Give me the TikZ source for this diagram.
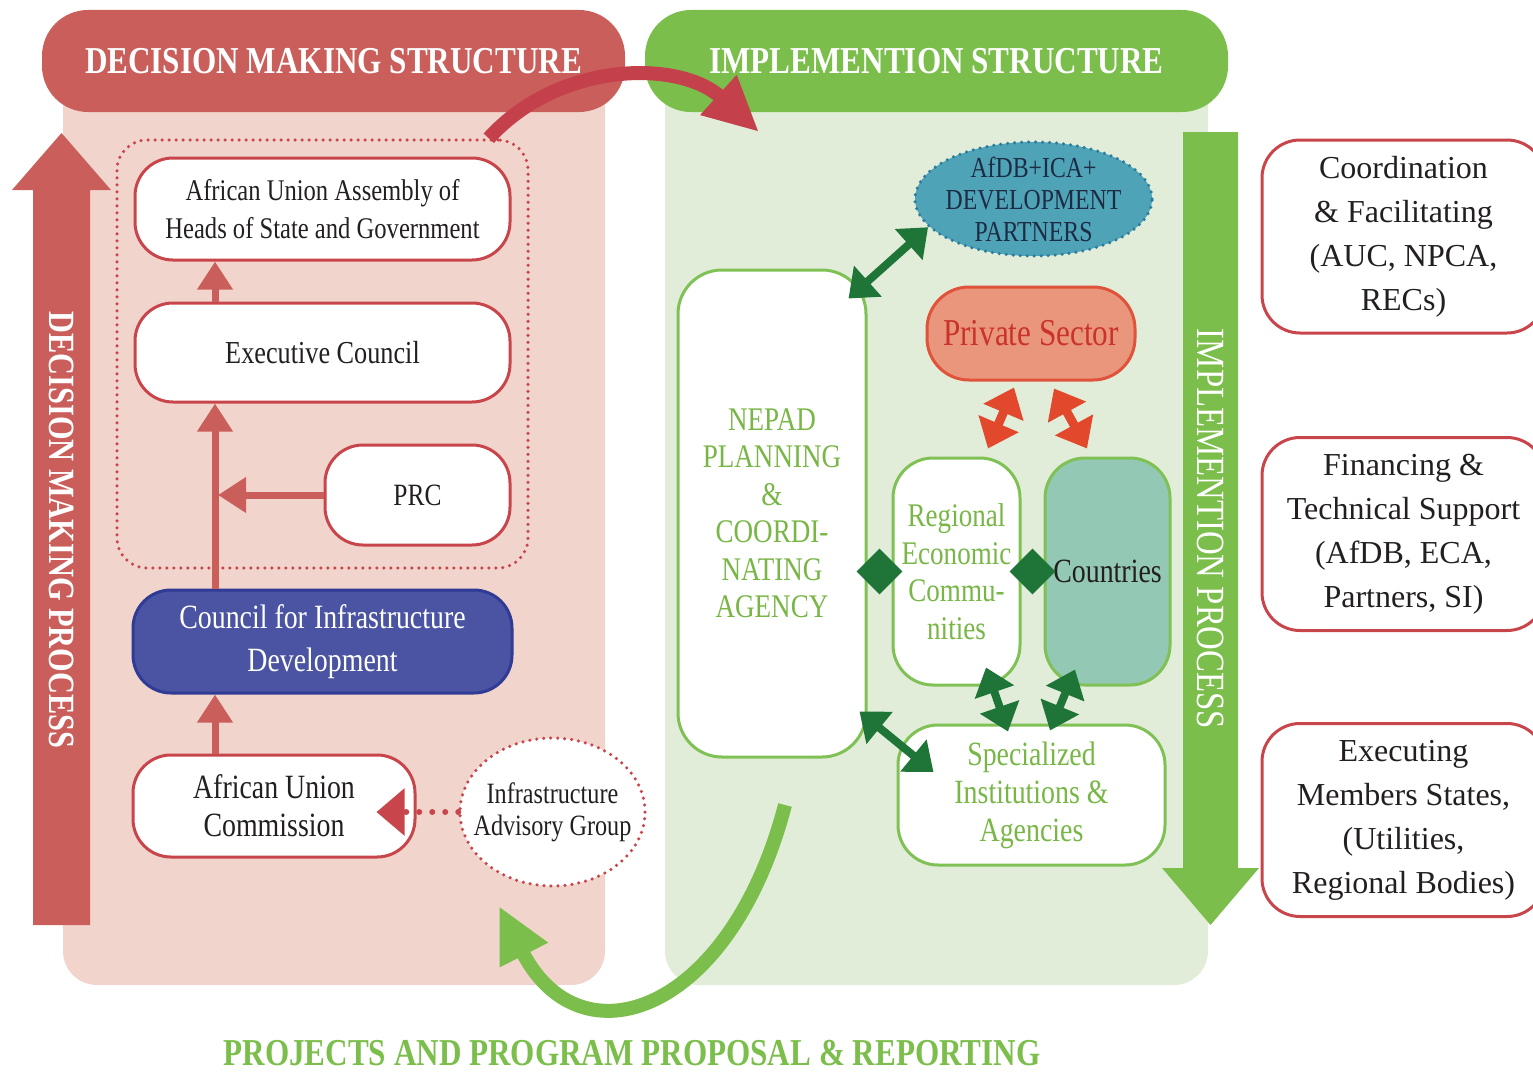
\documentclass[tikz,border=0pt]{standalone}
\usepackage{fontspec}
\setmainfont{Liberation Serif}
\newfontfamily\condfont[FakeStretch=0.82]{Liberation Serif}
\usetikzlibrary{arrows.meta,shapes.geometric,calc}

\definecolor{dmred}{HTML}{CA5E5A}
\definecolor{dmcurve}{HTML}{C4404A}
\definecolor{dmpink}{HTML}{F1D4CC}
\definecolor{dmline}{HTML}{C8464B}
\definecolor{imgreen}{HTML}{7BBE4B}
\definecolor{impale}{HTML}{E2EDD9}
\definecolor{imline}{HTML}{80C155}
\definecolor{imtext}{HTML}{78B646}
\definecolor{imdark}{HTML}{1E7537}
\definecolor{cidblue}{HTML}{4A54A3}
\definecolor{cidline}{HTML}{2F3B94}
\definecolor{afdbfill}{HTML}{4EA3B6}
\definecolor{afdbline}{HTML}{2A7CA0}
\definecolor{afdbtext}{HTML}{1E2B45}
\definecolor{psfill}{HTML}{EA967C}
\definecolor{psline}{HTML}{E0533B}
\definecolor{pstext}{HTML}{C9332B}
\definecolor{psarrow}{HTML}{E2482C}
\definecolor{ctfill}{HTML}{93C8B4}
\definecolor{ink}{HTML}{231F20}

\tikzset{headbar/.style={
  text=white,
  minimum width=583,
  minimum height=102,
  rounded corners=46,
  font=\condfont\bfseries\fontsize{38}{40}\selectfont}}
\tikzset{proctext/.style={
  text=white,
  rotate=-90,
  font=\condfont\fontsize{40}{44}\selectfont}}
\tikzset{dnode/.style={
  draw=dmline,
  fill=white,
  line width=3,
  rounded corners=38,
  inner sep=2,
  align=center,
  text=ink,
  font=\condfont\fontsize{30}{38}\selectfont}}
\tikzset{gnode/.style={
  draw=imline,
  fill=white,
  line width=3,
  rounded corners=40,
  inner sep=2,
  align=center,
  text=imtext,
  font=\condfont\fontsize{33}{37.5}\selectfont}}
\tikzset{sidenode/.style={
  draw=dmline,
  fill=white,
  line width=3,
  rounded corners=38,
  minimum width=283,
  minimum height=193,
  align=center,
  text=ink,
  font=\fontsize{32}{44}\selectfont}}
\tikzset{dotframe/.style={
  line width=3.5,
  dash pattern=on 0pt off 7pt,
  line cap=round}}
\tikzset{riser/.style={
  draw=dmred,
  line width=7,
  -{Triangle[width=34pt,length=28pt]}}}
\tikzset{dotlink/.style={
  draw=dmline,
  line width=6,
  dash pattern=on 0pt off 13pt,
  line cap=round,
  shorten >=-40pt,
  -{Triangle[width=46pt,length=28pt]}}}
\tikzset{gdlink/.style={
  draw=imdark,
  line width=8,
  {Triangle[width=40pt,length=26pt]}-{Triangle[width=40pt,length=26pt]}}}
\tikzset{pslink/.style={
  draw=psarrow,
  line width=9,
  {Triangle[width=42pt,length=27pt]}-{Triangle[width=42pt,length=27pt]}}}
\tikzset{joint/.style={
  diamond,
  fill=imdark,
  inner sep=0,
  minimum size=46}}
\tikzset{bigbend/.style={
  line width=14,
  -{Triangle[width=50pt,length=55pt]}}}

\begin{document}
\begin{tikzpicture}[x=1pt,y=-1pt]
  \useasboundingbox (0,0) rectangle (1533,1073);
  \clip (0,0) rectangle (1533,1073);

  %%%% Panels and headers %%%%
  \fill[dmpink, rounded corners=34] (63,60) rectangle (605,985);
  \fill[impale, rounded corners=34] (665,60) rectangle (1208,985);
  \node[headbar, fill=dmred] (dmhead) at (333.5,61) {DECISION MAKING STRUCTURE};
  \node[headbar, fill=imgreen] (imhead) at (936.5,61) {IMPLEMENTION STRUCTURE};

  %% Process arrows
  \fill[dmred] (33,925) -- (33,190) -- (12,190) -- (61.5,133) -- (111,190)
    -- (90,190) -- (90,925) -- cycle;
  \node[proctext, font=\condfont\bfseries\fontsize{37}{40}\selectfont] (dmproc)
    at (61.5,530) {DECISION MAKING PROCESS};
  \fill[imgreen] (1183,132) -- (1238,132) -- (1238,868) -- (1259,868)
    -- (1210.5,925) -- (1162,868) -- (1183,868) -- cycle;
  \node[proctext] (improc) at (1210.5,529) {IMPLEMENTION PROCESS};

  %%%% Decision making structure %%%%
  \node[dotframe, draw=dmline, rounded corners=30, minimum width=411,
    minimum height=428] (dmbox) at (322.5,354) {};
  \node[dnode, minimum width=375, minimum height=102] (assembly) at (322.5,209)
    {African Union Assembly of\\Heads of State and Government};
  \node[dnode, minimum width=375, minimum height=99,
    font=\condfont\fontsize{32}{38}\selectfont] (exec) at (322.5,352.5) {Executive Council};
  \node[dnode, minimum width=185, minimum height=100,
    font=\condfont\fontsize{31}{38}\selectfont] (prc) at (417.5,495) {PRC};
  \node[dnode, fill=cidblue, draw=cidline, text=white, minimum width=379,
    minimum height=103, font=\condfont\fontsize{34}{43}\selectfont] (cid)
    at (322.5,641.5) {Council for Infrastructure\\Development};
  \node[dnode, minimum width=282, minimum height=102,
    font=\condfont\fontsize{34}{38}\selectfont] (auc) at (274,806)
    {African Union\\Commission};
  \node[dotframe, draw=dmline, fill=white, ellipse, minimum width=185,
    minimum height=148] (iag) at (552.5,812) {};
  \node[align=center, text=ink, font=\condfont\fontsize{29.5}{32}\selectfont]
    (iagtext) at (iag) {Infrastructure\\Advisory Group};

  %% Arrows up the chain
  \coordinate (spine) at (215,0);
  \draw[riser] (auc.north -| spine) -- (cid.south -| spine);
  \draw[riser] (cid.north -| spine) -- (exec.south -| spine);
  \draw[riser] (exec.north -| spine) -- (assembly.south -| spine);
  \draw[riser] (prc.west) -- ([xshift=3]prc.west -| spine);
  \draw[dotlink] (iag.west) -- (auc.east |- iag.west);

  %%%% Implementation structure %%%%
  \node[gnode, minimum width=188, minimum height=487, rounded corners=44]
    (nepad) at (772,513.5)
    {NEPAD\\PLANNING\\\&\\COORDI-\\NATING\\AGENCY};
  \node[dotframe, draw=afdbline, fill=afdbfill, ellipse, minimum width=237,
    minimum height=114] (afdb) at (1033.5,199) {};
  \node[align=center, text=afdbtext, font=\condfont\fontsize{29}{32}\selectfont]
    (afdbtext) at (afdb) {AfDB+ICA+\\DEVELOPMENT\\PARTNERS};
  \node[gnode, draw=psline, fill=psfill, text=pstext, minimum width=208,
    minimum height=93, rounded corners=42,
    font=\condfont\fontsize{38}{40}\selectfont] (private) at (1031,333.5)
    {Private Sector};
  \node[gnode, minimum width=127, minimum height=227] (rec) at (956.5,571.5)
    {Regional\\Economic\\Commu-\\nities};
  \node[gnode, fill=ctfill, text=ink, minimum width=125, minimum height=227,
    font=\condfont\fontsize{34}{38}\selectfont] (countries) at (1107.5,571.5)
    {Countries};
  \node[gnode, minimum width=267, minimum height=140,
    font=\condfont\fontsize{34}{38}\selectfont] (spec) at (1031.5,795)
    {Specialized\\Institutions \&\\Agencies};

  %% Junctions
  \node[joint] (nepadrec) at ($(nepad.east |- rec.west)!.5!(rec.west)$) {};
  \node[joint] (reccountries) at ($(rec.east)!.5!(countries.west)$) {};

  %% Links
  \draw[gdlink] ($(nepad.north east)+(-19,30)$) -- (afdb.195);
  \draw[gdlink] ($(nepad.south east)+(-8,-47)$) -- ($(spec.west)+(37,-23)$);
  \draw[gdlink] ($(rec.south)+(29.5,-19)$) -- ($(spec.north)+(-23.5,8)$);
  \draw[gdlink] ($(countries.south)+(-32.5,-17)$) -- ($(spec.north)+(18.5,7)$);
  \draw[pslink] ($(private.south)+(-17,6)$) -- ($(rec.north)+(31.5,-8)$);
  \draw[pslink] ($(private.south)+(23,7)$) -- ($(countries.north)+(-20.5,-8)$);

  %%%% Roles on the right %%%%
  \node[sidenode] (coord) at (1403.5,236.5)
    {Coordination\\\& Facilitating\\(AUC, NPCA,\\RECs)};
  \node[sidenode] (finance) at (1403.5,534)
    {Financing \&\\Technical Support\\(AfDB, ECA,\\Partners, SI)};
  \node[sidenode] (execute) at (1403.5,820)
    {Executing\\Members States,\\(Utilities,\\Regional Bodies)};

  %%%% Loop between the two structures %%%%
  \coordinate (implin) at (759,132);
  \draw[bigbend, draw=dmcurve] ([xshift=-41]dmbox.north east)
    .. controls (560,60) and (680,60) .. (implin);
  \coordinate (repout) at (785,805);
  \coordinate (repin) at (499,906);
  \draw[bigbend, draw=imgreen] (repout)
    .. controls (730,1015) and (580,1065) .. (repin);
  \node[anchor=base, text=imgreen, font=\condfont\bfseries\fontsize{38}{40}\selectfont]
    (reporting) at (632,1065) {PROJECTS AND PROGRAM PROPOSAL \& REPORTING};

\end{tikzpicture}
\end{document}
